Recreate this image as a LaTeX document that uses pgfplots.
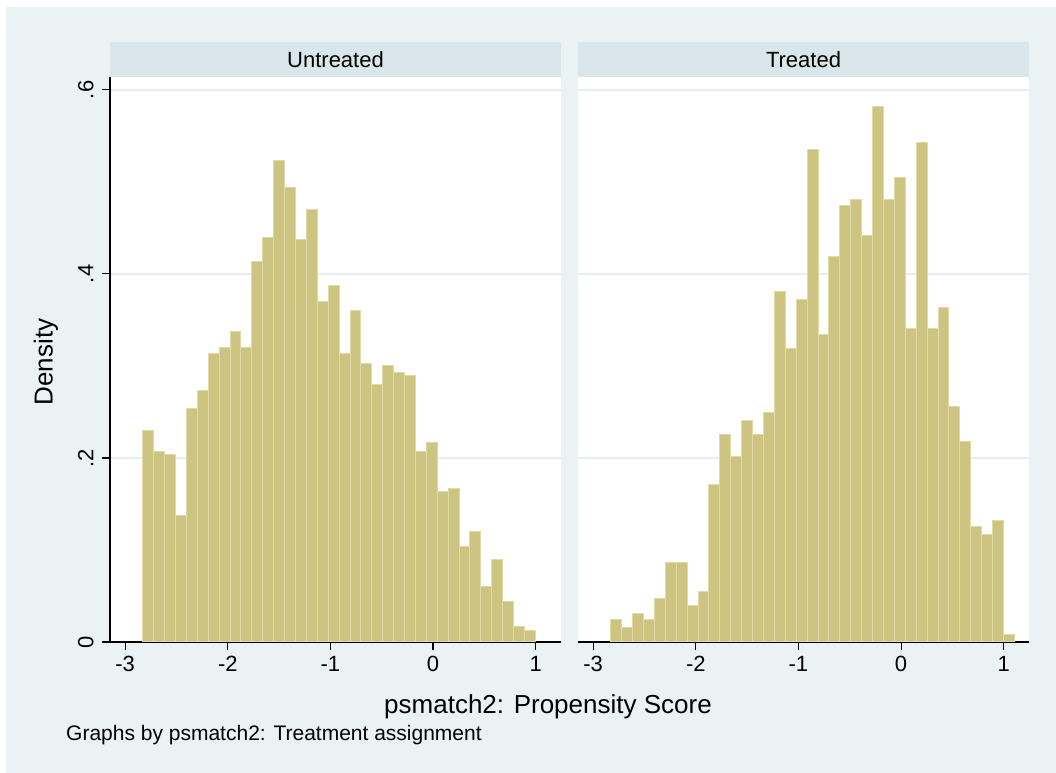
\documentclass[border=0pt]{standalone}
\usepackage{pgfplots}
\pgfplotsset{compat=1.18}
\usepackage{fontspec}
\setmainfont{Liberation Sans}

\definecolor{outerbg}{RGB}{234,242,243}
\definecolor{strip}{RGB}{217,230,235}
\definecolor{gridc}{RGB}{230,238,241}
\definecolor{barfill}{RGB}{204,196,128}
\definecolor{barline}{RGB}{224,219,166}

\newcommand{\tickfont}{\fontsize{22bp}{26bp}\selectfont}
\newcommand{\notefont}{\fontsize{21bp}{25bp}\selectfont}
\newcommand{\stripfont}{\fontsize{22bp}{26bp}\selectfont}
\newcommand{\titlefont}{\fontsize{26bp}{31bp}\selectfont}

\pgfplotsset{
  panel/.style={
    scale only axis,
    width=451bp, height=565bp,
    anchor=south west,
    xmin=-3.148, xmax=1.247,
    ymin=0, ymax=0.614,
    axis x line*=bottom, axis y line*=left,
    axis line style={-, black, line width=1.1bp},
    axis background/.style={fill=white},
    tick align=outside,
    major tick length=8bp,
    tick style={black, line width=1.1bp},
    xtick={-3,-2,-1,0,1},
    xticklabels={-3,-2,-1,0,1},
    xticklabel style={yshift=-3bp},
    ytick={0,0.2,0.4,0.6},
    ymajorgrids,
    major grid style={gridc, line width=1.4bp},
    ticklabel style={font=\tickfont},
  },
  hbars/.style={ybar interval, fill=barfill, draw=barline, line width=1bp},
}

\begin{document}
\begin{tikzpicture}[x=1bp,y=1bp]
\path[use as bounding box] (0,0) rectangle (1056,773);
\fill[white] (0,0) rectangle (1056,773);
\fill[outerbg] (6,0) rectangle (1056,766);

% panel headers
\fill[strip] (110,696) rectangle (561,731);
\fill[strip] (578,696) rectangle (1029,731);
\node[font=\stripfont] at (335.5,713.5) {Untreated};
\node[font=\stripfont] at (803.5,713.5) {Treated};

% untreated
\begin{axis}[panel, at={(110bp,131bp)},
  yticklabels={0,.2,.4,.6},
  yticklabel style={xshift=-5bp, rotate=90, anchor=south}]
\addplot[hbars] coordinates {
(-2.8280,0.230) (-2.7217,0.207) (-2.6155,0.204) (-2.5092,0.137)
(-2.4029,0.254) (-2.2966,0.273) (-2.1904,0.314) (-2.0841,0.320)
(-1.9778,0.337) (-1.8716,0.320) (-1.7653,0.414) (-1.6590,0.440)
(-1.5528,0.523) (-1.4465,0.494) (-1.3402,0.437) (-1.2340,0.470)
(-1.1277,0.370) (-1.0214,0.387) (-0.9151,0.314) (-0.8089,0.360)
(-0.7026,0.303) (-0.5963,0.280) (-0.4901,0.301) (-0.3838,0.293)
(-0.2775,0.290) (-0.1713,0.207) (-0.0650,0.217) (0.0413,0.164)
(0.1476,0.167) (0.2538,0.104) (0.3601,0.120) (0.4664,0.060)
(0.5726,0.090) (0.6789,0.044) (0.7852,0.017) (0.8914,0.013)
(0.9977,0.013)
};
\end{axis}

% treated
\begin{axis}[panel, at={(578bp,131bp)},
  yticklabels={},
  y axis line style={draw=none},
  ytick style={draw=none}]
\addplot[hbars] coordinates {
(-2.8280,0.024) (-2.7217,0.016) (-2.6155,0.031) (-2.5092,0.024)
(-2.4029,0.047) (-2.2966,0.086) (-2.1904,0.086) (-2.0841,0.040)
(-1.9778,0.055) (-1.8716,0.171) (-1.7653,0.225) (-1.6590,0.202)
(-1.5528,0.241) (-1.4465,0.225) (-1.3402,0.249) (-1.2340,0.381)
(-1.1277,0.319) (-1.0214,0.372) (-0.9151,0.535) (-0.8089,0.334)
(-0.7026,0.419) (-0.5963,0.474) (-0.4901,0.481) (-0.3838,0.442)
(-0.2775,0.582) (-0.1713,0.481) (-0.0650,0.505) (0.0413,0.341)
(0.1476,0.543) (0.2538,0.341) (0.3601,0.364) (0.4664,0.256)
(0.5726,0.218) (0.6789,0.125) (0.7852,0.117) (0.8914,0.132)
(0.9977,0.008) (1.1040,0.008)
};
\end{axis}

\node[rotate=90, font=\titlefont] at (46,411) {Density};
\node[font=\titlefont] at (548,66) {psmatch2: Propensity Score};
\node[font=\notefont, anchor=west, inner sep=0pt] at (66,38) {Graphs by psmatch2: Treatment assignment};
\end{tikzpicture}
\end{document}
